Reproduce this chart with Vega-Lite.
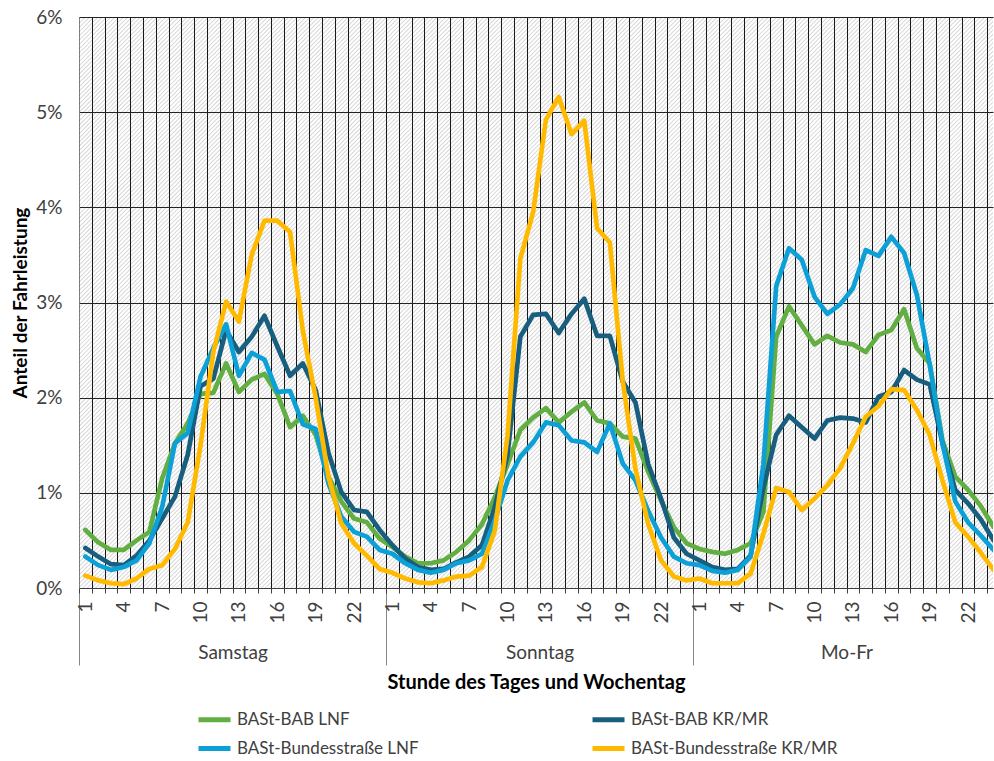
{
 "$schema": "https://vega.github.io/schema/vega-lite/v6.json",
 "width": 914,
 "height": 571,
 "autosize": {"type": "none"},
 "padding": {"left": 79, "top": 17, "right": 1, "bottom": 173},
 "config": {"view": {"stroke": null}, "font": "Lato"},
 "layer": [
  {
   "data": {"values": [{}]},
   "mark": {"type": "rule", "clip": true, "stroke": "#000", "strokeOpacity": 0.16, "strokeWidth": 1150, "strokeDash": [1, 2]},
   "encoding": {
    "x": {"datum": 5.27, "type": "quantitative", "scale": {"domain": [0.5, 71.95], "nice": false, "zero": false},
     "axis": {"orient": "bottom", "values": [0.5, 24.5, 48.5], "grid": false, "ticks": true, "tickSize": 77, "tickColor": "#868686", "domain": false,
      "labelExpr": "datum.value < 1 ? 'Samstag' : (datum.value < 25 ? 'Sonntag' : 'Mo-Fr')",
      "labelAngle": 0, "labelAlign": "center", "labelBaseline": "top", "labelOffset": 153.5, "labelPadding": -22,
      "labelFontSize": 19, "labelColor": "#404040", "labelOverlap": false, "labelBound": false, "labelFlush": false,
      "title": "Stunde des Tages und Wochentag", "titleFontSize": 20, "titleFontWeight": "bold", "titleColor": "#000", "titlePadding": 7}},
    "x2": {"datum": 67.19},
    "y": {"datum": 7.161, "type": "quantitative", "scale": {"domain": [0, 6], "nice": false, "zero": false},
     "axis": {"orient": "left", "values": [0, 1, 2, 3, 4, 5, 6], "labelExpr": "datum.value + '%'", "grid": true, "gridColor": "#262626", "gridWidth": 1,
      "ticks": false, "domain": true, "domainColor": "#868686", "labelPadding": 17, "labelFontSize": 19, "labelColor": "#404040",
      "title": "Anteil der Fahrleistung", "titleFontSize": 19, "titleFontWeight": "bold", "titleColor": "#000", "titlePadding": 5}},
    "y2": {"datum": -1.161}
   }
  },
  {
   "data": {"values": [
    {"t":1,"BASt-BAB LNF":0.61,"BASt-BAB KR/MR":0.42,"BASt-Bundesstraße LNF":0.33,"BASt-Bundesstraße KR/MR":0.13},
    {"t":2,"BASt-BAB LNF":0.48,"BASt-BAB KR/MR":0.33,"BASt-Bundesstraße LNF":0.24,"BASt-Bundesstraße KR/MR":0.08},
    {"t":3,"BASt-BAB LNF":0.40,"BASt-BAB KR/MR":0.25,"BASt-Bundesstraße LNF":0.19,"BASt-Bundesstraße KR/MR":0.05},
    {"t":4,"BASt-BAB LNF":0.40,"BASt-BAB KR/MR":0.24,"BASt-Bundesstraße LNF":0.22,"BASt-Bundesstraße KR/MR":0.04},
    {"t":5,"BASt-BAB LNF":0.50,"BASt-BAB KR/MR":0.34,"BASt-Bundesstraße LNF":0.29,"BASt-Bundesstraße KR/MR":0.10},
    {"t":6,"BASt-BAB LNF":0.59,"BASt-BAB KR/MR":0.50,"BASt-Bundesstraße LNF":0.47,"BASt-Bundesstraße KR/MR":0.20},
    {"t":7,"BASt-BAB LNF":1.15,"BASt-BAB KR/MR":0.73,"BASt-Bundesstraße LNF":0.85,"BASt-Bundesstraße KR/MR":0.24},
    {"t":8,"BASt-BAB LNF":1.52,"BASt-BAB KR/MR":0.96,"BASt-Bundesstraße LNF":1.52,"BASt-Bundesstraße KR/MR":0.41},
    {"t":9,"BASt-BAB LNF":1.73,"BASt-BAB KR/MR":1.40,"BASt-Bundesstraße LNF":1.63,"BASt-Bundesstraße KR/MR":0.69},
    {"t":10,"BASt-BAB LNF":2.04,"BASt-BAB KR/MR":2.12,"BASt-Bundesstraße LNF":2.22,"BASt-Bundesstraße KR/MR":1.50},
    {"t":11,"BASt-BAB LNF":2.05,"BASt-BAB KR/MR":2.20,"BASt-Bundesstraße LNF":2.52,"BASt-Bundesstraße KR/MR":2.48},
    {"t":12,"BASt-BAB LNF":2.36,"BASt-BAB KR/MR":2.71,"BASt-Bundesstraße LNF":2.77,"BASt-Bundesstraße KR/MR":3.01},
    {"t":13,"BASt-BAB LNF":2.06,"BASt-BAB KR/MR":2.48,"BASt-Bundesstraße LNF":2.23,"BASt-Bundesstraße KR/MR":2.80},
    {"t":14,"BASt-BAB LNF":2.19,"BASt-BAB KR/MR":2.64,"BASt-Bundesstraße LNF":2.47,"BASt-Bundesstraße KR/MR":3.50},
    {"t":15,"BASt-BAB LNF":2.25,"BASt-BAB KR/MR":2.86,"BASt-Bundesstraße LNF":2.40,"BASt-Bundesstraße KR/MR":3.86},
    {"t":16,"BASt-BAB LNF":2.04,"BASt-BAB KR/MR":2.54,"BASt-Bundesstraße LNF":2.06,"BASt-Bundesstraße KR/MR":3.86},
    {"t":17,"BASt-BAB LNF":1.69,"BASt-BAB KR/MR":2.23,"BASt-Bundesstraße LNF":2.07,"BASt-Bundesstraße KR/MR":3.74},
    {"t":18,"BASt-BAB LNF":1.81,"BASt-BAB KR/MR":2.36,"BASt-Bundesstraße LNF":1.72,"BASt-Bundesstraße KR/MR":2.70},
    {"t":19,"BASt-BAB LNF":1.61,"BASt-BAB KR/MR":2.08,"BASt-Bundesstraße LNF":1.67,"BASt-Bundesstraße KR/MR":2.00},
    {"t":20,"BASt-BAB LNF":1.17,"BASt-BAB KR/MR":1.42,"BASt-Bundesstraße LNF":1.10,"BASt-Bundesstraße KR/MR":1.17},
    {"t":21,"BASt-BAB LNF":0.91,"BASt-BAB KR/MR":1.01,"BASt-Bundesstraße LNF":0.75,"BASt-Bundesstraße KR/MR":0.68},
    {"t":22,"BASt-BAB LNF":0.73,"BASt-BAB KR/MR":0.82,"BASt-Bundesstraße LNF":0.59,"BASt-Bundesstraße KR/MR":0.47},
    {"t":23,"BASt-BAB LNF":0.69,"BASt-BAB KR/MR":0.80,"BASt-Bundesstraße LNF":0.54,"BASt-Bundesstraße KR/MR":0.34},
    {"t":24,"BASt-BAB LNF":0.52,"BASt-BAB KR/MR":0.61,"BASt-Bundesstraße LNF":0.40,"BASt-Bundesstraße KR/MR":0.20},
    {"t":25,"BASt-BAB LNF":0.43,"BASt-BAB KR/MR":0.45,"BASt-Bundesstraße LNF":0.36,"BASt-Bundesstraße KR/MR":0.16},
    {"t":26,"BASt-BAB LNF":0.33,"BASt-BAB KR/MR":0.31,"BASt-Bundesstraße LNF":0.26,"BASt-Bundesstraße KR/MR":0.10},
    {"t":27,"BASt-BAB LNF":0.26,"BASt-BAB KR/MR":0.22,"BASt-Bundesstraße LNF":0.19,"BASt-Bundesstraße KR/MR":0.06},
    {"t":28,"BASt-BAB LNF":0.26,"BASt-BAB KR/MR":0.19,"BASt-Bundesstraße LNF":0.16,"BASt-Bundesstraße KR/MR":0.05},
    {"t":29,"BASt-BAB LNF":0.29,"BASt-BAB KR/MR":0.20,"BASt-Bundesstraße LNF":0.19,"BASt-Bundesstraße KR/MR":0.08},
    {"t":30,"BASt-BAB LNF":0.38,"BASt-BAB KR/MR":0.27,"BASt-Bundesstraße LNF":0.26,"BASt-Bundesstraße KR/MR":0.12},
    {"t":31,"BASt-BAB LNF":0.50,"BASt-BAB KR/MR":0.33,"BASt-Bundesstraße LNF":0.29,"BASt-Bundesstraße KR/MR":0.13},
    {"t":32,"BASt-BAB LNF":0.67,"BASt-BAB KR/MR":0.45,"BASt-Bundesstraße LNF":0.36,"BASt-Bundesstraße KR/MR":0.22},
    {"t":33,"BASt-BAB LNF":0.95,"BASt-BAB KR/MR":0.85,"BASt-Bundesstraße LNF":0.71,"BASt-Bundesstraße KR/MR":0.60},
    {"t":34,"BASt-BAB LNF":1.30,"BASt-BAB KR/MR":1.40,"BASt-Bundesstraße LNF":1.13,"BASt-Bundesstraße KR/MR":1.60},
    {"t":35,"BASt-BAB LNF":1.66,"BASt-BAB KR/MR":2.64,"BASt-Bundesstraße LNF":1.38,"BASt-Bundesstraße KR/MR":3.46},
    {"t":36,"BASt-BAB LNF":1.79,"BASt-BAB KR/MR":2.87,"BASt-Bundesstraße LNF":1.53,"BASt-Bundesstraße KR/MR":3.95},
    {"t":37,"BASt-BAB LNF":1.89,"BASt-BAB KR/MR":2.88,"BASt-Bundesstraße LNF":1.74,"BASt-Bundesstraße KR/MR":4.92},
    {"t":38,"BASt-BAB LNF":1.74,"BASt-BAB KR/MR":2.68,"BASt-Bundesstraße LNF":1.71,"BASt-Bundesstraße KR/MR":5.16},
    {"t":39,"BASt-BAB LNF":1.85,"BASt-BAB KR/MR":2.88,"BASt-Bundesstraße LNF":1.55,"BASt-Bundesstraße KR/MR":4.77},
    {"t":40,"BASt-BAB LNF":1.95,"BASt-BAB KR/MR":3.04,"BASt-Bundesstraße LNF":1.53,"BASt-Bundesstraße KR/MR":4.91},
    {"t":41,"BASt-BAB LNF":1.76,"BASt-BAB KR/MR":2.65,"BASt-Bundesstraße LNF":1.43,"BASt-Bundesstraße KR/MR":3.78},
    {"t":42,"BASt-BAB LNF":1.73,"BASt-BAB KR/MR":2.65,"BASt-Bundesstraße LNF":1.73,"BASt-Bundesstraße KR/MR":3.63},
    {"t":43,"BASt-BAB LNF":1.59,"BASt-BAB KR/MR":2.17,"BASt-Bundesstraße LNF":1.31,"BASt-Bundesstraße KR/MR":2.18},
    {"t":44,"BASt-BAB LNF":1.57,"BASt-BAB KR/MR":1.95,"BASt-Bundesstraße LNF":1.13,"BASt-Bundesstraße KR/MR":1.25},
    {"t":45,"BASt-BAB LNF":1.22,"BASt-BAB KR/MR":1.30,"BASt-Bundesstraße LNF":0.81,"BASt-Bundesstraße KR/MR":0.67},
    {"t":46,"BASt-BAB LNF":0.92,"BASt-BAB KR/MR":0.94,"BASt-Bundesstraße LNF":0.53,"BASt-Bundesstraße KR/MR":0.29},
    {"t":47,"BASt-BAB LNF":0.64,"BASt-BAB KR/MR":0.53,"BASt-Bundesstraße LNF":0.33,"BASt-Bundesstraße KR/MR":0.12},
    {"t":48,"BASt-BAB LNF":0.47,"BASt-BAB KR/MR":0.36,"BASt-Bundesstraße LNF":0.26,"BASt-Bundesstraße KR/MR":0.08},
    {"t":49,"BASt-BAB LNF":0.41,"BASt-BAB KR/MR":0.29,"BASt-Bundesstraße LNF":0.24,"BASt-Bundesstraße KR/MR":0.10},
    {"t":50,"BASt-BAB LNF":0.38,"BASt-BAB KR/MR":0.22,"BASt-Bundesstraße LNF":0.18,"BASt-Bundesstraße KR/MR":0.05},
    {"t":51,"BASt-BAB LNF":0.36,"BASt-BAB KR/MR":0.19,"BASt-Bundesstraße LNF":0.16,"BASt-Bundesstraße KR/MR":0.05},
    {"t":52,"BASt-BAB LNF":0.40,"BASt-BAB KR/MR":0.20,"BASt-Bundesstraße LNF":0.19,"BASt-Bundesstraße KR/MR":0.05},
    {"t":53,"BASt-BAB LNF":0.47,"BASt-BAB KR/MR":0.34,"BASt-Bundesstraße LNF":0.33,"BASt-Bundesstraße KR/MR":0.15},
    {"t":54,"BASt-BAB LNF":0.80,"BASt-BAB KR/MR":1.05,"BASt-Bundesstraße LNF":1.30,"BASt-Bundesstraße KR/MR":0.57},
    {"t":55,"BASt-BAB LNF":2.64,"BASt-BAB KR/MR":1.61,"BASt-Bundesstraße LNF":3.17,"BASt-Bundesstraße KR/MR":1.05},
    {"t":56,"BASt-BAB LNF":2.96,"BASt-BAB KR/MR":1.81,"BASt-Bundesstraße LNF":3.57,"BASt-Bundesstraße KR/MR":1.01},
    {"t":57,"BASt-BAB LNF":2.76,"BASt-BAB KR/MR":1.69,"BASt-Bundesstraße LNF":3.45,"BASt-Bundesstraße KR/MR":0.82},
    {"t":58,"BASt-BAB LNF":2.56,"BASt-BAB KR/MR":1.57,"BASt-Bundesstraße LNF":3.06,"BASt-Bundesstraße KR/MR":0.94},
    {"t":59,"BASt-BAB LNF":2.65,"BASt-BAB KR/MR":1.76,"BASt-Bundesstraße LNF":2.88,"BASt-Bundesstraße KR/MR":1.08},
    {"t":60,"BASt-BAB LNF":2.58,"BASt-BAB KR/MR":1.79,"BASt-Bundesstraße LNF":2.98,"BASt-Bundesstraße KR/MR":1.26},
    {"t":61,"BASt-BAB LNF":2.56,"BASt-BAB KR/MR":1.78,"BASt-Bundesstraße LNF":3.15,"BASt-Bundesstraße KR/MR":1.52},
    {"t":62,"BASt-BAB LNF":2.48,"BASt-BAB KR/MR":1.74,"BASt-Bundesstraße LNF":3.55,"BASt-Bundesstraße KR/MR":1.80},
    {"t":63,"BASt-BAB LNF":2.66,"BASt-BAB KR/MR":2.01,"BASt-Bundesstraße LNF":3.49,"BASt-Bundesstraße KR/MR":1.91},
    {"t":64,"BASt-BAB LNF":2.71,"BASt-BAB KR/MR":2.06,"BASt-Bundesstraße LNF":3.69,"BASt-Bundesstraße KR/MR":2.09},
    {"t":65,"BASt-BAB LNF":2.93,"BASt-BAB KR/MR":2.29,"BASt-Bundesstraße LNF":3.52,"BASt-Bundesstraße KR/MR":2.08},
    {"t":66,"BASt-BAB LNF":2.52,"BASt-BAB KR/MR":2.19,"BASt-Bundesstraße LNF":3.08,"BASt-Bundesstraße KR/MR":1.87},
    {"t":67,"BASt-BAB LNF":2.36,"BASt-BAB KR/MR":2.14,"BASt-Bundesstraße LNF":2.35,"BASt-Bundesstraße KR/MR":1.61},
    {"t":68,"BASt-BAB LNF":1.55,"BASt-BAB KR/MR":1.52,"BASt-Bundesstraße LNF":1.52,"BASt-Bundesstraße KR/MR":1.13},
    {"t":69,"BASt-BAB LNF":1.17,"BASt-BAB KR/MR":1.03,"BASt-Bundesstraße LNF":0.91,"BASt-Bundesstraße KR/MR":0.69},
    {"t":70,"BASt-BAB LNF":1.03,"BASt-BAB KR/MR":0.89,"BASt-Bundesstraße LNF":0.69,"BASt-Bundesstraße KR/MR":0.54},
    {"t":71,"BASt-BAB LNF":0.86,"BASt-BAB KR/MR":0.72,"BASt-Bundesstraße LNF":0.55,"BASt-Bundesstraße KR/MR":0.37},
    {"t":72,"BASt-BAB LNF":0.64,"BASt-BAB KR/MR":0.50,"BASt-Bundesstraße LNF":0.40,"BASt-Bundesstraße KR/MR":0.19}
   ]},
   "transform": [{"fold": ["BASt-BAB LNF", "BASt-BAB KR/MR", "BASt-Bundesstraße LNF", "BASt-Bundesstraße KR/MR"], "as": ["Reihe", "Anteil"]}],
   "mark": {"type": "line", "clip": true, "strokeWidth": 4.7, "strokeJoin": "round", "strokeCap": "round"},
   "encoding": {
    "x": {"field": "t", "type": "quantitative", "scale": {"domain": [0.5, 71.95], "nice": false, "zero": false},
     "axis": {"orient": "bottom",
      "values": [0.5,1.5,2.5,3.5,4.5,5.5,6.5,7.5,8.5,9.5,10.5,11.5,12.5,13.5,14.5,15.5,16.5,17.5,18.5,19.5,20.5,21.5,22.5,23.5,24.5,25.5,26.5,27.5,28.5,29.5,30.5,31.5,32.5,33.5,34.5,35.5,36.5,37.5,38.5,39.5,40.5,41.5,42.5,43.5,44.5,45.5,46.5,47.5,48.5,49.5,50.5,51.5,52.5,53.5,54.5,55.5,56.5,57.5,58.5,59.5,60.5,61.5,62.5,63.5,64.5,65.5,66.5,67.5,68.5,69.5,70.5,71.5],
      "grid": true, "gridColor": "#1a1a1a", "gridWidth": 1, "ticks": true, "tickSize": 5, "tickColor": "#404040",
      "domain": true, "domainColor": "#404040",
      "labelExpr": "(datum.value - 0.5) % 3 == 0 ? '' + ((datum.value - 0.5) % 24 + 1) : ''",
      "labelAngle": -90, "labelOffset": 6.4, "labelPadding": 8, "labelFontSize": 19, "labelColor": "#404040",
      "labelOverlap": false, "labelBound": false, "labelFlush": false, "title": null}},
    "y": {"field": "Anteil", "type": "quantitative", "scale": {"domain": [0, 6], "nice": false, "zero": false}, "axis": null},
    "color": {"field": "Reihe", "type": "nominal",
     "scale": {"domain": ["BASt-BAB LNF", "BASt-Bundesstraße LNF", "BASt-BAB KR/MR", "BASt-Bundesstraße KR/MR"], "range": ["#62AE42", "#0CA0D6", "#185E7E", "#FFBA00"]},
     "legend": {"orient": "none", "legendX": 117, "legendY": 684, "columns": 2, "title": null, "symbolType": "stroke", "symbolSize": 1024, "symbolStrokeWidth": 5,
      "labelFontSize": 17, "labelColor": "#404040", "labelLimit": 400, "columnPadding": 163, "rowPadding": -4, "labelOffset": 4}}
   }
  }
 ],
 "resolve": {"axis": {"x": "independent", "y": "independent"}}
}
